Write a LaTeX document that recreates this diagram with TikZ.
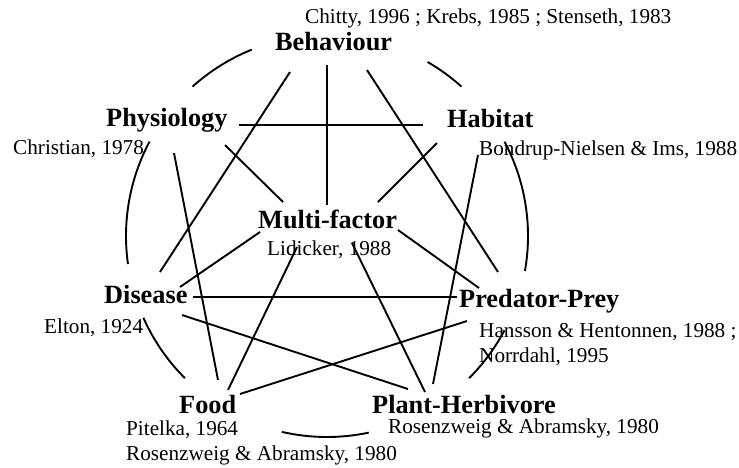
\documentclass[tikz,border=0pt]{standalone}
\usepackage{fontspec}
\setmainfont{Liberation Serif}
\begin{document}
\begin{tikzpicture}[x=1pt,y=-1pt,
  lbl/.style={font=\bfseries\fontsize{26.3}{30}\selectfont, anchor=base west, inner sep=0pt},
  cit/.style={font=\fontsize{21.2}{25}\selectfont, anchor=base west, inner sep=0pt},
  link/.style={line width=1.9pt},
  ring/.style={line width=1.9pt}]
\useasboundingbox (0,0) rectangle (739,467);
% factor labels
\node[lbl] (beh)  at (275,50)  {Behaviour};
\node[lbl] (phys) at (106,126) {Physiology};
\node[lbl] (hab)  at (447,127) {Habitat};
\node[lbl] (mf)   at (258,228) {Multi-factor};
\node[lbl] (dis)  at (104,303) {Disease};
\node[lbl] (pp)   at (459,307) {Predator-Prey};
\node[lbl] (food) at (179,413) {Food};
\node[lbl] (ph)   at (372,413) {Plant-Herbivore};
% citations
\node[cit] (cbeh)  at (305,23)  {Chitty, 1996 ; Krebs, 1985 ; Stenseth, 1983};
\node[cit] (cphys) at (13,154)  {Christian, 1978};
\node[cit] (chab)  at (479,155) {Bondrup-Nielsen \& Ims, 1988};
\node[cit] (cmf)   at (267,255) {Lidicker, 1988};
\node[cit] (cdis)  at (44,333)  {Elton, 1924};
\node[cit] (cpp1)  at (479,337) {Hansson \& Hentonnen, 1988 ;};
\node[cit] (cpp2)  at (479,362) {Norrdahl, 1995};
\node[cit] (cfood1) at (126,435) {Pitelka, 1964};
\node[cit] (cfood2) at (126,460) {Rosenzweig \& Abramsky, 1980};
\node[cit] (cph)   at (388,433) {Rosenzweig \& Abramsky, 1980};
% outer ring
\coordinate (ctr) at (327,236);
\foreach \a/\b in {112/132, 48/60, -10/28, -45/-28, -103/-78, 204/225, 152/188}{
  \draw[ring] ([shift={(\a:201pt)}]ctr) arc[start angle=\a, end angle=\b, radius=201pt];
}
% links
\draw[link] ([xshift=52pt,yshift=-15pt]beh.base west) -- ([xshift=69pt,yshift=23pt]mf.base west);
\draw[link] ([xshift=15pt,yshift=-22pt]beh.base west) -- ([xshift=56pt,yshift=31pt]dis.base west);
\draw[link] ([xshift=92pt,yshift=-20pt]beh.base west) -- ([xshift=39pt,yshift=35pt]pp.base west);
\draw[link] ([xshift=133pt,yshift=1pt]phys.base west) -- ([xshift=-24pt,yshift=2pt]hab.base west);
\draw[link] ([xshift=119pt,yshift=-19pt]phys.base west) -- ([xshift=25pt,yshift=26pt]mf.base west);
\draw[link] ([xshift=68pt,yshift=-27pt]phys.base west) -- ([xshift=39pt,yshift=33pt]food.base west);
\draw[link] ([xshift=-10pt,yshift=-16pt]hab.base west) -- ([xshift=120pt,yshift=26pt]mf.base west);
\draw[link] ([xshift=31pt,yshift=-28pt]hab.base west) -- ([xshift=61pt,yshift=29pt]ph.base west);
\draw[link] ([xshift=140pt,yshift=-2pt]mf.base west) -- ([xshift=20pt,yshift=19pt]pp.base west);
\draw[link] ([xshift=2pt,yshift=-4pt]mf.base west) -- ([xshift=76pt,yshift=16pt]dis.base west);
\draw[link] ([xshift=39pt,yshift=-19pt]mf.base west) -- ([xshift=49pt,yshift=23pt]food.base west);
\draw[link] ([xshift=94pt,yshift=-15pt]mf.base west) -- ([xshift=53pt,yshift=21pt]ph.base west);
\draw[link] ([xshift=89pt,yshift=6pt]dis.base west) -- ([xshift=-2pt,yshift=10pt]pp.base west);
\draw[link] ([xshift=78pt,yshift=-12pt]dis.base west) -- ([xshift=36pt,yshift=24pt]ph.base west);
\draw[link] ([xshift=61pt,yshift=19pt]food.base west) -- ([xshift=8pt,yshift=-14pt]pp.base west);
\end{tikzpicture}
\end{document}
